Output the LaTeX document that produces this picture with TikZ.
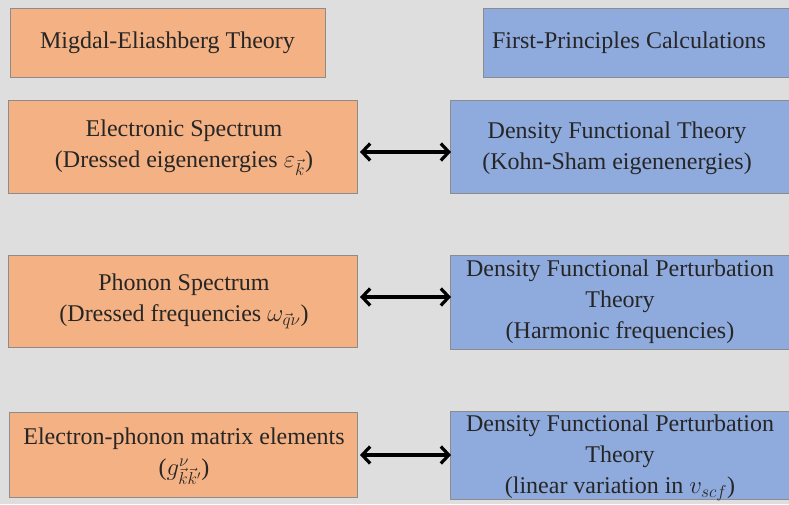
\documentclass[tikz,border=0pt]{standalone}
\usepackage{fontspec}
\setmainfont{Liberation Serif}
\usetikzlibrary{arrows.meta}
\definecolor{bg}{HTML}{DEDEDE}
\definecolor{orbox}{HTML}{F4B183}
\definecolor{blbox}{HTML}{8FAADC}
\definecolor{edge}{HTML}{8C8C8C}
\begin{document}
\begin{tikzpicture}[x=1pt,y=-1pt,
  orangebox/.style={draw=edge,fill=orbox,line width=0.8pt},
  bluebox/.style={draw=edge,fill=blbox,line width=0.8pt},
  lbl/.style={align=center,font=\fontsize{24}{31}\selectfont,text=black!85,inner sep=0pt},
  dbl/.style={{Straight Barb[length=8pt,width=17pt,line width=3.2pt]}-{Straight Barb[length=8pt,width=17pt,line width=3.2pt]},line width=3.2pt}]
\fill[bg] (0,0) rectangle (789,504);
\useasboundingbox (0,0) rectangle (789,504);
% row 1
\draw[orangebox] (10,8) rectangle (325,77);
\node[lbl] (me) at (167.5,43) {Migdal-Eliashberg Theory};
\draw[bluebox] (483,8) rectangle (792,77);
\node[lbl] (fp) at (629,43) {First-Principles Calculations};
% row 2
\draw[orangebox] (8,100) rectangle (357,193);
\node[lbl] (es) at (184,148) {Electronic Spectrum\\(Dressed eigenenergies $\varepsilon_{\vec{k}}$)};
\draw[bluebox] (450,100) rectangle (792,193);
\node[lbl] (dft) at (617,148) {Density Functional Theory\\(Kohn-Sham eigenenergies)};
% row 3
\draw[orangebox] (8,255) rectangle (357,347);
\node[lbl] (ps) at (184,301) {Phonon Spectrum\\(Dressed frequencies $\omega_{\vec{q}\nu}$)};
\draw[bluebox] (450,255) rectangle (792,349);
\node[lbl] (dfpt1) at (620,302) {Density Functional Perturbation\\Theory\\(Harmonic frequencies)};
% row 4
\draw[orangebox] (9,412) rectangle (357,497);
\node[lbl] (ep) at (184,456) {Electron-phonon matrix elements\\($g^{\nu}_{\vec{k}\vec{k}'}$)};
\draw[bluebox] (450,411) rectangle (792,499);
\node[lbl] (dfpt2) at (620,458) {Density Functional Perturbation\\Theory\\(linear variation in $v_{scf}$)};
% arrows
\coordinate (a1l) at (360,152); \coordinate (a1r) at (451,152);
\coordinate (a2l) at (360,297); \coordinate (a2r) at (451,297);
\coordinate (a3l) at (360,455); \coordinate (a3r) at (451,455);
\draw[dbl] (a1l) -- (a1r);
\draw[dbl] (a2l) -- (a2r);
\draw[dbl] (a3l) -- (a3r);
\end{tikzpicture}
\end{document}
